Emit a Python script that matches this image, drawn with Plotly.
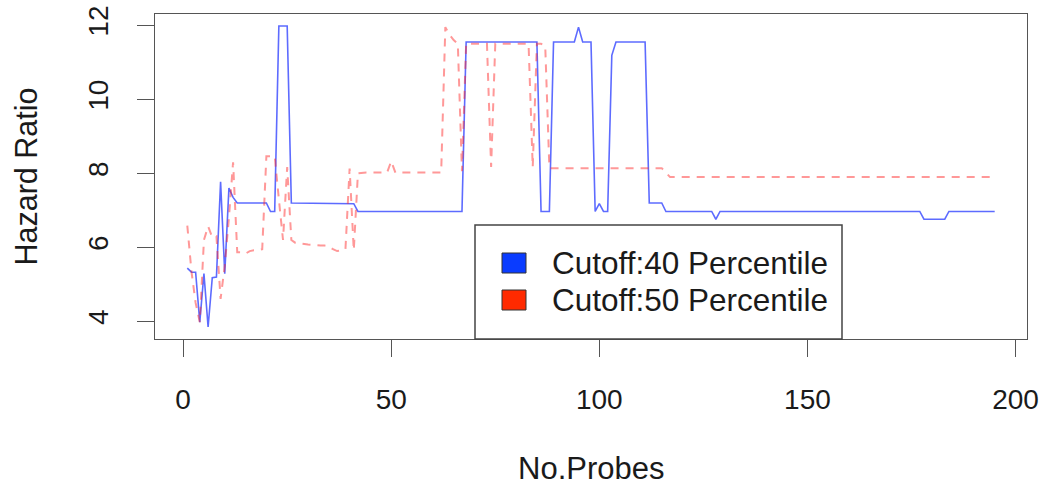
import plotly.graph_objects as go

# ---------------- data ----------------
probes = list(range(1, 196))

cutoff40 = (
    [5.44, 5.33, 5.33, 3.98, 5.29, 3.85, 5.18, 5.20, 7.77, 5.29, 7.60, 7.35]
    + [7.20] * 8
    + [6.97] * 2
    + [11.98] * 3
    + [7.20] * 15 + [7.18]
    + [6.97] * 26
    + [11.55] * 18
    + [6.97] * 3
    + [11.55] * 6
    + [11.95]
    + [11.55] * 3
    + [6.97, 7.18, 6.97, 6.97, 11.19]
    + [11.55] * 8
    + [7.20] * 4
    + [6.97] * 12
    + [6.76]
    + [6.97] * 49
    + [6.76] * 6
    + [6.97] * 12
)

cutoff50 = (
    [6.59, 5.35, 4.50, 3.98, 6.20, 6.57, 6.27, 6.30, 4.61, 5.50, 6.80, 8.30, 5.87]
    + [5.87, 5.83, 5.90, 5.92, 5.92, 5.95]
    + [8.46] * 3
    + [7.30, 6.20, 8.17, 6.20, 6.12]
    + [6.10, 6.08, 6.08, 6.07, 6.05, 6.05, 6.05, 6.03, 5.95, 5.90, 5.92, 5.95]
    + [8.13, 5.92, 8.00]
    + [8.02] * 7
    + [8.33]
    + [8.02] * 12
    + [11.95, 11.75, 11.60, 11.50, 8.06]
    + [11.50] * 6
    + [8.17]
    + [11.50] * 9
    + [8.17]
    + [11.50, 11.50, 11.45]
    + [8.14] * 28
    + [8.02]
    + [7.90] * 79
)

series_names = ["Cutoff:40 Percentile", "Cutoff:50 Percentile"]
x_ticks = [0, 50, 100, 150, 200]
y_ticks = [4, 6, 8, 10, 12]

# ---------------- layout geometry ----------------
W, H = 1044, 489
L, R, T, B = 155, 1027, 14, 339  # plot region in pixels

def px(xp):
    return (xp - L) / (R - L)

def py(yp):
    return (B - yp) / (B - T)

# R-style 4% axis extension
def r_range(vals):
    lo, hi = min(vals), max(vals)
    pad = (hi - lo) * 0.04
    return [lo - pad, hi + pad]

xr = r_range(probes)
yr = r_range(cutoff40 + cutoff50)

FONT = "Liberation Sans, Arial, Helvetica, sans-serif"
AXC = "#555555"

fig = go.Figure()
fig.add_trace(go.Scatter(
    x=probes, y=cutoff40, mode="lines", name=series_names[0],
    line=dict(color="rgba(30,50,255,0.72)", width=1.6),
    showlegend=False, hoverinfo="skip"))
fig.add_trace(go.Scatter(
    x=probes, y=cutoff50, mode="lines", name=series_names[1],
    line=dict(color="rgba(255,40,40,0.48)", width=2, dash="8px,7px"),
    showlegend=False, hoverinfo="skip"))

fig.update_layout(
    width=W, height=H,
    margin=dict(l=L, r=W - R, t=T, b=H - B, pad=0, autoexpand=False),
    paper_bgcolor="white", plot_bgcolor="white",
    font=dict(family=FONT, color="#1a1a1a"),
    showlegend=False,
)
fig.update_xaxes(
    range=xr, tickmode="array", tickvals=x_ticks, automargin=False,
    ticks="outside", ticklen=17, tickwidth=1, tickcolor=AXC,
    showline=True, linecolor=AXC, linewidth=1, mirror=True,
    showgrid=False, zeroline=False,
    tickfont=dict(size=28, family=FONT, color="#1a1a1a"),
    ticklabelstandoff=18,
)
fig.update_yaxes(
    range=yr, tickmode="array", tickvals=y_ticks, automargin=False,
    ticks="outside", ticklen=17, tickwidth=1, tickcolor=AXC,
    showline=True, linecolor=AXC, linewidth=1, mirror=True,
    showgrid=False, zeroline=False, tickangle=-90,
    tickfont=dict(size=28, family=FONT, color="#1a1a1a"),
    ticklabelstandoff=18,
)

# axis titles
fig.add_annotation(text="No.Probes", xref="paper", yref="paper",
                   x=px((L + R) / 2), y=py(468), showarrow=False,
                   xanchor="center", yanchor="middle",
                   font=dict(size=31, family=FONT, color="#1a1a1a"))
fig.add_annotation(text="Hazard Ratio", xref="paper", yref="paper",
                   x=px(25), y=py((T + B) / 2), showarrow=False, textangle=-90,
                   xanchor="center", yanchor="middle",
                   font=dict(size=30.5, family=FONT, color="#1a1a1a"))

# legend box (R style)
fig.add_shape(type="rect", xref="paper", yref="paper",
              x0=px(475), x1=px(842), y0=py(339), y1=py(225),
              line=dict(color="#444444", width=1.5), fillcolor="white")
legend_fill = ["#0a3cff", "#ff2a00"]
legend_rows = [263, 300]
for name, col, yc in zip(series_names, legend_fill, legend_rows):
    fig.add_shape(type="rect", xref="paper", yref="paper",
                  x0=px(502), x1=px(526), y0=py(yc + 10), y1=py(yc - 10),
                  line=dict(color="#333333", width=1), fillcolor=col)
    fig.add_annotation(text=name, xref="paper", yref="paper",
                       x=px(550), y=py(yc), showarrow=False,
                       xanchor="left", yanchor="middle",
                       font=dict(size=31.5, family=FONT, color="#1a1a1a"))

fig.write_html("out.html")
